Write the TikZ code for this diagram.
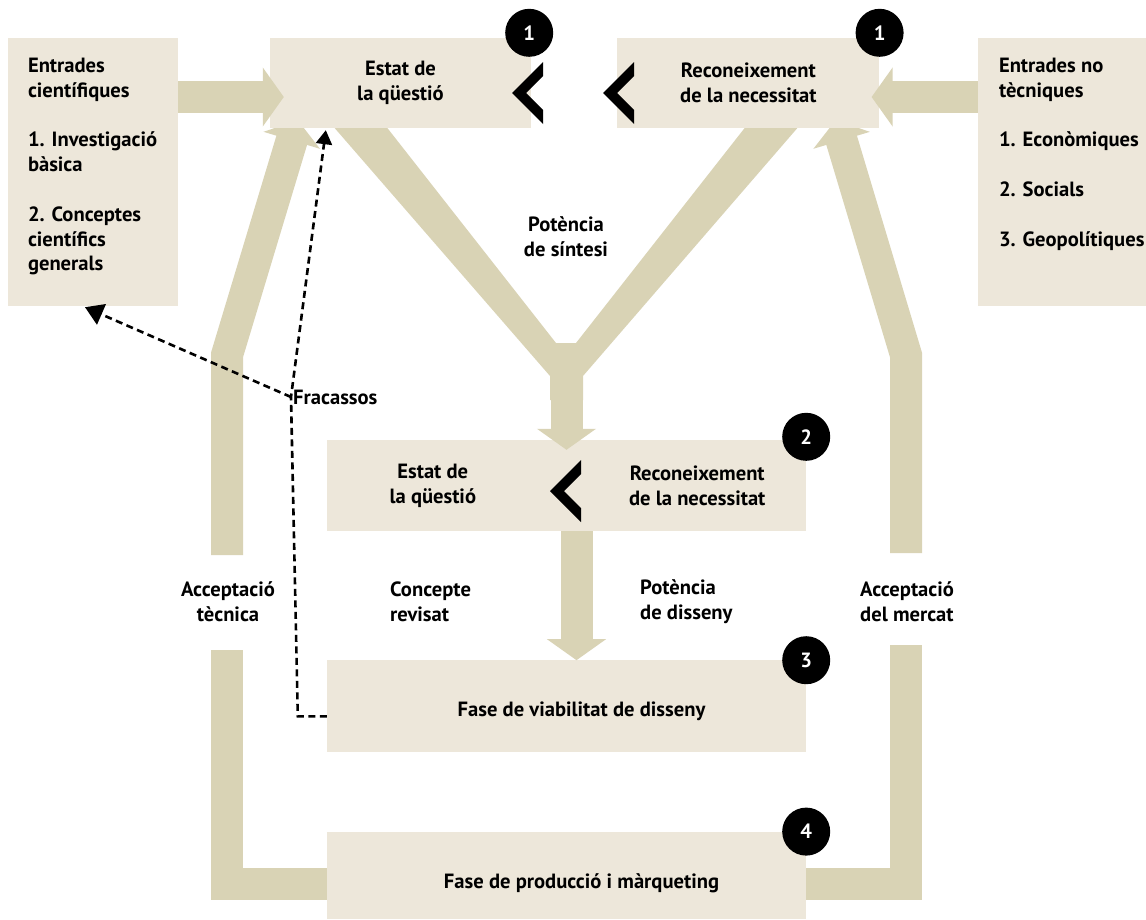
\documentclass[tikz,border=0pt]{standalone}
\usepackage{fontspec}
\setmainfont{PT Sans}
\usepackage{xcolor}
\usepackage{tikz}
\usetikzlibrary{arrows.meta, positioning, backgrounds}

\definecolor{boxbg}{HTML}{EDE7DA}
\definecolor{flow}{HTML}{D9D3B5}

\tikzset{chev/.pic={
    \fill[black] (0,0) -- (31,-31) -- (31,-17) -- (14,0) -- (31,17) -- (31,31) -- cycle;
}}

\begin{document}
\begin{tikzpicture}[x=1pt, y=-1pt,
    every node/.style={font=\bfseries\fontsize{20.6}{24.8}\selectfont},
    box/.style={fill=boxbg, inner sep=0pt},
    lbl/.style={align=center, inner sep=0pt},
    flowarrow/.style={draw=flow, line width=32pt, line join=miter, -{Triangle[length=21pt, width=58pt]}},
    flowbar/.style={draw=flow, line width=32pt, line join=miter},
    numdot/.style={circle, fill=black, text=white, minimum size=48pt, inner sep=0pt},
    fail/.style={line width=2.6pt, dash pattern=on 7pt off 4.5pt}]

    \useasboundingbox (0,0) rectangle (1146,919);

    % Top row: state of the art and need
    \node[box, minimum width=261pt, minimum height=90pt, lbl] (estat) at (400.5,83) {Estat de\\la qüestió};
    \node[box, minimum width=262pt, minimum height=90pt, lbl, right=86pt of estat] (need) {Reconeixement\\de la necessitat};

    % Input boxes on both sides
    \node[box, minimum width=170pt, minimum height=268pt] (inL) at (93,172) {};
    \node[lbl, align=left, anchor=north west] (inLtxt) at ([shift={(20,20)}]inL.north west) {Entrades\\científiques\\[24.8pt]1. Investigació\\bàsica\\[24.8pt]2. Conceptes\\científics\\generals};
    \node[box, minimum width=188pt, minimum height=268pt] (inR) at (1072,172) {};
    \node[lbl, align=left, anchor=north west] (inRtxt) at ([shift={(21,20)}]inR.north west) {Entrades no\\tècniques\\[24.8pt]1. Econòmiques\\[24.8pt]2. Socials\\[24.8pt]3. Geopolítiques};

    % Phase boxes
    \node[box, minimum width=479pt, minimum height=91pt] (box2) at (566.5,485.5) {};
    \node[lbl] (estat2) at ([xshift=106pt]box2.west) {Estat de\\la qüestió};
    \node[lbl] (need2) at ([xshift=-109pt]box2.east) {Reconeixement\\de la necessitat};
    \node[box, minimum width=479pt, minimum height=92pt, below=129pt of box2] (box3) {};
    \node[lbl] (viab) at ([shift={(15,5)}]box3.center) {Fase de viabilitat de disseny};
    \node[box, minimum width=479pt, minimum height=87pt, below=79pt of box3] (box4) {};
    \node[lbl] (prod) at ([shift={(15,7.5)}]box4.center) {Fase de producció i màrqueting};

    % Synthesis Y and acceptance arrows, behind the boxes
    \coordinate (tecnica) at (227,555);
    \coordinate (mercat) at (906,553);
    \begin{pgfonlayer}{background}
        \fill[flow] (332,125) -- (550,376) -- (550,400) -- (583,400) -- (583,376) -- (800,125)
            -- (747,125) -- (576,343) -- (556,343) -- (385,125) -- cycle;
        \draw[flowarrow] (tecnica) -- (227,355) -- ([shift={(28,-8)}]estat.south west);
        \draw[flowarrow] (mercat) -- (906,355) -- ([shift={(-44,-8)}]need.south east);
    \end{pgfonlayer}

    % Inputs into the top boxes
    \coordinate (sciTip) at ([shift={(14,14)}]estat.west);
    \coordinate (socTip) at ([shift={(-8,14)}]need.east);
    \draw[flowarrow] (inL.east |- sciTip) -- (sciTip);
    \draw[flowarrow] (inR.west |- socTip) -- (socTip);

    % Down the middle
    \draw[flowarrow] (566.5,380) -- ([shift={(0,10)}]box2.north);
    \draw[flowarrow] ([xshift=10pt]box2.south) -- ([xshift=10pt]box3.north);

    % Acceptance bars from production
    \draw[flowbar] ([shift={(0,8.5)}]box4.west) -| (227,650);
    \draw[flowbar] ([shift={(0,8.5)}]box4.east) -| (906,645);

    % Chevrons
    \pic at ([shift={(-19,10)}]estat.east) {chev};
    \pic at ([shift={(-14,10)}]need.west) {chev};
    \pic at ([shift={(-16.5,5.5)}]box2.center) {chev};

    % Step numbers
    \node[numdot] (n1a) at ([shift={(-2,-5)}]estat.north east) {1};
    \node[numdot] (n1b) at ([shift={(0,-5)}]need.north east) {1};
    \node[numdot] (n2) at ([shift={(0,-3)}]box2.north east) {2};
    \node[numdot] (n3) at (box3.north east) {3};
    \node[numdot] (n4) at (box4.north east) {4};

    % Labels
    \node[lbl] (sintesi) at (566,237) {Potència\\de síntesi};
    \node[lbl] (tecLbl) at (228,602) {Acceptació\\tècnica};
    \node[lbl, align=left, anchor=west] (revisat) at (390,602) {Concepte\\revisat};
    \node[lbl, align=left, anchor=west] (disseny) at (640,602) {Potència\\de disseny};
    \node[lbl, align=left, anchor=west] (merLbl) at (860,602) {Acceptació\\del mercat};

    % Failures
    \coordinate (fracas) at (291,397);
    \node[anchor=west, inner sep=2pt] (fracLbl) at (fracas) {Fracassos};
    \draw[fail, -{Triangle[length=14pt, width=16pt]}] ([shift={(0,10)}]box3.west) -- ++(-29,0) -- (fracas) -- ([shift={(56,2)}]estat.south west);
    \draw[fail, -{Triangle[length=18pt, width=22pt]}] (fracas) -- ([shift={(-8,1)}]inL.south);

\end{tikzpicture}
\end{document}
